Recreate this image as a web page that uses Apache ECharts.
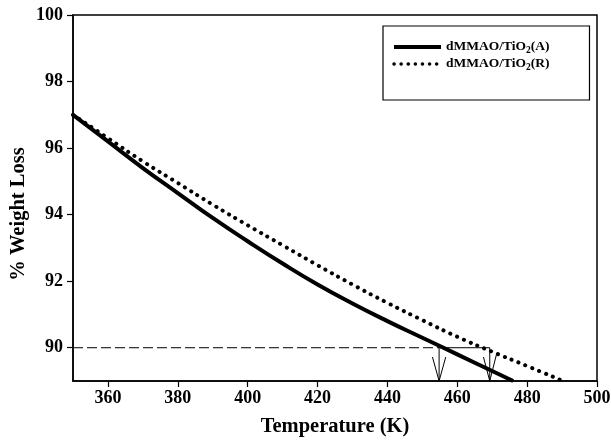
<!DOCTYPE html>
<html>
<head>
<meta charset="utf-8">
<script src="https://cdn.jsdelivr.net/npm/echarts@6/dist/echarts.min.js"></script>
<style>
  html, body { margin: 0; padding: 0; background: #fff; }
  #main { width: 611px; height: 442px; }
</style>
</head>
<body>
<div id="main"></div>
<script>
const chartDom = document.getElementById("main");
const myChart = echarts.init(chartDom);

// dMMAO/TiO2(A), solid curve
const tempA = [350, 360, 370, 380, 390, 400, 410, 420, 430, 440, 450, 460, 470, 476];
const lossA = [97.0, 96.2, 95.4, 94.65, 93.9, 93.2, 92.53, 91.9, 91.33, 90.8, 90.3, 89.8, 89.3, 89.0];

// dMMAO/TiO2(R), dotted curve
const tempR = [350, 360, 370, 380, 390, 400, 410, 420, 430, 440, 450, 460, 470, 480, 490.3];
const lossR = [97.0, 96.3, 95.6, 94.95, 94.3, 93.68, 93.08, 92.48, 91.9, 91.35, 90.83, 90.33, 89.88, 89.45, 89.0];

// 90 % guide and the two arrows down to the temperature axis
const guideDashT = [350, 454.8];
const guideSolidT = [454.8, 469.3];
const guideLevel = 90;
const arrowT = [454.8, 469.3];
const arrowLeftArm = [[452.9, 89.72], [467.5, 89.72]];
const arrowRightArm = [[456.7, 89.72], [471.3, 89.83]];
const axisBottom = 89;

const xTicks = [360, 380, 400, 420, 440, 460, 480, 500];
const yTicks = [90, 92, 94, 96, 98, 100];

const font = "Liberation Serif";
const nameA = "dMMAO/TiO2(A)";
const nameR = "dMMAO/TiO2(R)";

const pairs = (xs, ys) => xs.map((x, i) => [x, ys[i]]);
const thin = { color: "#000", width: 1 };
const solidStyle = { color: "#000", width: 4 };
const dottedStyle = { color: "#000", width: 4, type: [0.1, 7.3], cap: "round" };

const annotation = (data, style) => ({
    type: "line",
    data: data,
    symbol: "none",
    silent: true,
    lineStyle: style,
    z: 1,
});

const series = [
    {
        name: nameA,
        type: "line",
        data: pairs(tempA, lossA),
        smooth: true,
        symbol: "none",
        lineStyle: solidStyle,
        itemStyle: { color: "#000" },
        z: 3,
    },
    {
        name: nameR,
        type: "line",
        data: pairs(tempR, lossR),
        smooth: true,
        symbol: "none",
        lineStyle: dottedStyle,
        itemStyle: { color: "#000" },
        z: 3,
    },
    annotation(guideDashT.map((t) => [t, guideLevel]), { color: "#000", width: 1, type: [10, 4] }),
    annotation(guideSolidT.map((t) => [t, guideLevel]), thin),
];
arrowT.forEach((t, i) => {
    series.push(annotation([[t, guideLevel], [t, axisBottom]], thin));
    series.push(annotation([arrowLeftArm[i], [t, axisBottom], arrowRightArm[i]], thin));
});

const legendLabel = (name) => {
    const tail = name.split("TiO2")[1];
    return "{t|dMMAO/TiO}{s|2}{t|" + tail + "}";
};

myChart.setOption({
    animation: false,
    textStyle: { fontFamily: font },
    grid: {
        left: 73,
        right: 14,
        top: 15,
        bottom: 61,
        outerBoundsMode: "none",
        show: true,
        borderColor: "#000",
        borderWidth: 1.5,
    },
    legend: {
        data: [
            { name: nameA, lineStyle: { width: 4, type: "solid" } },
            { name: nameR, lineStyle: { width: 3.5, type: [0.1, 7], cap: "round" } },
        ],
        orient: "vertical",
        left: 383,
        top: 26,
        padding: [14, 40, 27, 9],
        itemGap: 1,
        itemWidth: 47,
        itemHeight: 14,
        borderColor: "#000",
        borderWidth: 1.2,
        itemStyle: { opacity: 0 },
        formatter: legendLabel,
        textStyle: {
            rich: {
                t: { fontFamily: font, fontSize: 13.5, fontWeight: "bold", color: "#000" },
                s: { fontFamily: font, fontSize: 9.5, fontWeight: "bold", color: "#000", padding: [8, 0, 0, 0] },
            },
        },
    },
    xAxis: {
        type: "value",
        min: 350,
        max: 500,
        name: "Temperature (K)",
        nameLocation: "middle",
        nameGap: 35,
        nameTextStyle: { fontFamily: font, fontSize: 20.5, fontWeight: "bold", color: "#000" },
        axisLine: { lineStyle: { color: "#000", width: 1.5 } },
        axisTick: { show: true, customValues: xTicks, length: 6, lineStyle: { color: "#000", width: 1.2 } },
        axisLabel: { customValues: xTicks, margin: 8, fontFamily: font, fontSize: 18, fontWeight: "bold", color: "#000" },
        splitLine: { show: false },
    },
    yAxis: {
        type: "value",
        min: 89,
        max: 100,
        name: "% Weight Loss",
        nameLocation: "middle",
        nameGap: 44,
        nameMoveOverlap: false,
        nameTextStyle: { fontFamily: font, fontSize: 20.5, fontWeight: "bold", color: "#000", padding: [0, 32, 0, 0] },
        axisLine: { show: true, lineStyle: { color: "#000", width: 1.5 } },
        axisTick: { show: true, customValues: yTicks, length: 6, lineStyle: { color: "#000", width: 1.2 } },
        axisLabel: { customValues: yTicks, margin: 10, fontFamily: font, fontSize: 18, fontWeight: "bold", color: "#000" },
        splitLine: { show: false },
    },
    series: series,
});
</script>
</body>
</html>
